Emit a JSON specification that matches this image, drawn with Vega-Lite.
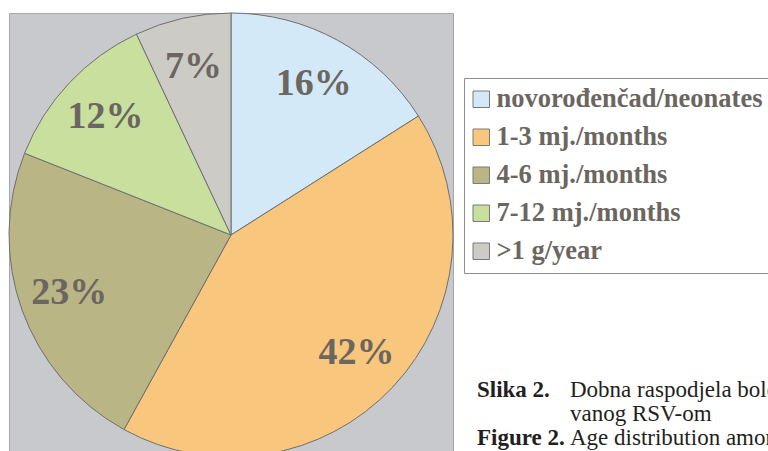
{
  "$schema": "https://vega.github.io/schema/vega-lite/v6.json",
  "padding": {"left": 6, "top": 10, "right": 0, "bottom": 0},
  "background": "#FFFFFF",
  "title": {
    "text": ["Dobna raspodjela bolesnika hospitalizo-", "vanog RSV-om", "Age distribution among hospitalized patients"],
    "anchor": "start", "frame": "group", "orient": "top", "offset": 0,
    "baseline": "alphabetic", "dx": 561, "dy": 457,
    "font": "Liberation Serif", "fontSize": 23, "fontWeight": "normal",
    "color": "#231F20", "lineHeight": 24
  },
  "vconcat": [
    {
      "title": {
        "text": ["Slika 2.", "Figure 2."],
        "anchor": "start", "frame": "group", "orient": "top", "offset": 0,
        "baseline": "alphabetic", "dx": 468, "dy": 457,
        "font": "Liberation Serif", "fontSize": 23, "fontWeight": "bold",
        "color": "#231F20", "lineHeight": 48
      },
      "width": 444,
      "height": 444,
      "view": {"fill": "#C8C9CD", "stroke": "#A6A6A6", "strokeWidth": 1},
      "data": {
        "values": [
          {"group": "novorođenčad/neonates", "value": 16, "ord": 1, "label": "16%"},
          {"group": "1-3 mj./months", "value": 42, "ord": 2, "label": "42%"},
          {"group": "4-6 mj./months", "value": 23, "ord": 3, "label": "23%"},
          {"group": "7-12 mj./months", "value": 12, "ord": 4, "label": "12%"},
          {"group": ">1 g/year", "value": 7, "ord": 5, "label": "7%"}
        ]
      },
      "layer": [
        {
          "mark": {"type": "arc", "stroke": "#6F6F6F", "strokeWidth": 1},
          "encoding": {
            "theta": {"field": "value", "type": "quantitative", "stack": true},
            "order": {"field": "ord", "type": "quantitative"},
            "color": {
              "field": "group", "type": "nominal",
              "scale": {
                "domain": ["novorođenčad/neonates", "1-3 mj./months", "4-6 mj./months", "7-12 mj./months", ">1 g/year"],
                "range": ["#D4E9F8", "#F8C67C", "#BAB585", "#C9DF9E", "#CDCBC6"]
              },
              "legend": {
                "orient": "none", "legendX": 455, "legendY": 65, "title": null,
                "padding": 8, "strokeColor": "#8F8F8F", "fillColor": "#FFFFFF",
                "symbolType": "square", "symbolSize": 272, "symbolOffset": -4,
                "symbolStrokeColor": "#7A7A7A", "symbolStrokeWidth": 1,
                "labelFont": "Liberation Serif", "labelFontWeight": "bold",
                "labelFontSize": 26.5, "labelColor": "#6B6660",
                "labelOffset": 2, "rowPadding": 11, "labelLimit": 0
              }
            }
          }
        },
        {
          "mark": {"type": "text", "radius": 172, "font": "Liberation Serif", "fontWeight": "bold", "fontSize": 38, "fill": "#6B6660", "align": "center", "baseline": "middle"},
          "encoding": {
            "theta": {"field": "value", "type": "quantitative", "stack": true},
            "order": {"field": "ord", "type": "quantitative"},
            "text": {"field": "label"}
          }
        }
      ]
    }
  ]
}
